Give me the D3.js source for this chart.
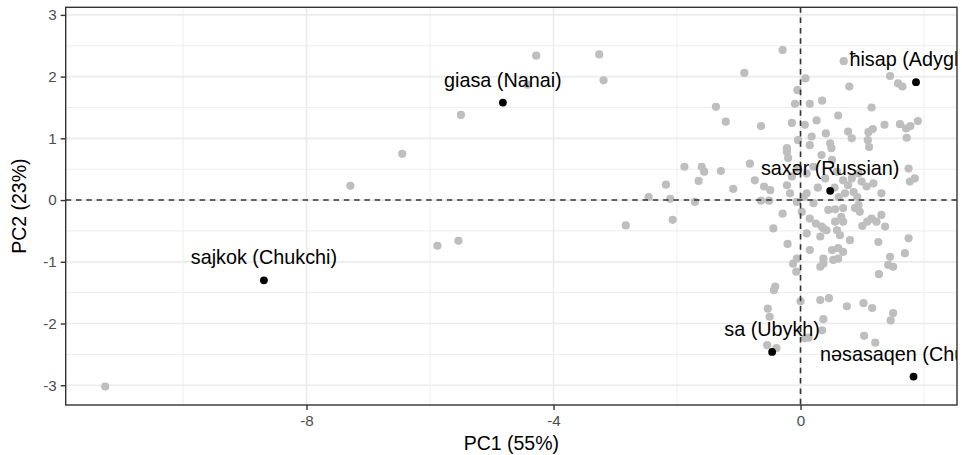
<!DOCTYPE html>
<html>
<head>
<meta charset="utf-8">
<script src="https://cdn.jsdelivr.net/npm/d3@7/dist/d3.min.js"></script>
<style>
  body { margin: 0; background: #ffffff; }
  svg { display: block; }
</style>
</head>
<body>
<svg id="chart" width="962" height="455"></svg>
<script>
// PCA scores of all words (grey background points)
const pc1Scores = [
  -11.26, -4.28, -3.26, -3.19, -4.42, -5.50, -6.45, -7.29, -2.83, -5.88, -5.54,
  -0.29, -0.91, -1.37, -1.21, -0.64, -0.14, -0.22, 0.70, 0.08, -0.05, 0.79, 1.45, 1.58, 1.65,
  -0.09, 0.15, 0.35, 1.15, 0.61, 0.07, 0.26, 1.36, 1.61, 1.71, 1.78, 1.90, 1.72, 0.41, 0.48,
  0.77, 0.83, 1.10, 1.17, 1.09, 1.11, -0.04, 0.18, 0.15, 0.50,
  -1.88, -1.60, -1.56, -1.29, -1.65, -2.18, -2.46, -2.11, -1.71, -2.07, -1.09, -0.82, -0.74,
  -0.59, -0.49, -0.64, -0.51, -0.29, -0.44, -0.21, -0.22, -0.20, 1.75, 1.85, 1.77, 1.31, 1.18,
  1.07, 0.94, 0.99, 0.86, 0.77, 0.69, 0.59, 0.51, 0.34, 0.21, 0.10, -0.06, -0.14, -0.22, -0.17,
  0.05, 0.10, 0.72, 0.83,
  -0.06, 0.21, 0.02, 0.15, 0.45, 0.56, 0.69, 0.88, 0.96, 0.94, 1.15, 1.23, 1.31, 1.37, 0.37,
  0.42, 0.56, 0.69, 0.59, 0.64, 0.80, 0.32, 0.15, 1.26, 1.75, 0.51, 0.61, 0.69, 0.53, 0.61,
  0.37, 1.45, 1.42, 1.69, 0.32, -0.12, -0.06, -0.07, 0.10, 0.34, 0.37, 1.08, 1.50, 1.27,
  0.32, 0.46, 0.00, -0.41, -0.43, -0.53, -0.50, 0.37, 0.35, 0.13, 0.07, 0.75, 1.02, 1.16,
  1.50, 1.46, 1.03, 1.21, -0.54, -0.39,
  0.28, 0.62, 0.66, 0.92, 0.40, 0.25, 1.00, 0.55
];
const pc2Scores = [
  -3.02, 2.34, 2.36, 1.94, 1.87, 1.38, 0.75, 0.23, -0.41, -0.74, -0.66,
  2.43, 2.06, 1.51, 1.27, 1.20, 1.25, 0.84, 2.25, 1.97, 1.78, 1.84, 2.01, 1.89, 1.84,
  1.56, 1.56, 1.61, 1.50, 1.37, 1.22, 1.29, 1.22, 1.23, 1.16, 1.20, 1.28, 1.01, 1.08, 0.92,
  1.11, 1.00, 1.10, 1.15, 0.97, 0.86, 0.97, 1.03, 0.89, 0.84,
  0.54, 0.54, 0.46, 0.47, 0.31, 0.25, 0.05, 0.02, -0.03, -0.32, 0.18, 0.59, 0.32,
  0.22, 0.16, -0.01, -0.01, -0.22, -0.46, -0.71, 0.78, 0.68, 0.51, 0.35, 0.30, 0.11, 0.27,
  0.22, 0.43, 0.30, 0.13, 0.24, 0.32, 0.46, 0.65, 0.73, 0.54, 0.43, 0.51, 0.38, 0.24, 0.11,
  0.05, 0.11, 0.11, 0.35,
  -0.03, -0.05, -0.19, -0.30, -0.16, -0.15, -0.13, -0.13, -0.19, -0.08, -0.30, -0.35, -0.24, -0.43, -0.46,
  -0.49, -0.35, -0.35, -0.49, -0.57, -0.65, -0.59, -0.81, -0.68, -0.62, -0.81, -0.78, -0.84, -0.97, -0.95,
  -0.95, -0.92, -1.05, -0.86, -1.08, -1.03, -0.95, -1.16, -0.54, -0.43, -1.03, -0.35, -1.08, -1.20,
  -1.62, -1.59, -1.64, -1.40, -1.46, -1.76, -1.89, -1.93, -2.11, -2.23, -2.24, -1.72, -1.67, -1.75,
  -1.83, -1.95, -2.20, -2.31, -2.35, -2.40,
  0.20, 0.05, -0.27, 0.05, 0.35, -0.38, -0.42, 0.20
];

// Highlighted words with their language
const highlightLabels = ["giasa (Nanai)", "sajkok (Chukchi)", "ħisap (Adyghe)", "saxər (Russian)", "sa (Ubykh)", "nəsasaqen (Chukchi)"];
const highlightPC1 = [-4.82, -8.69, 1.87, 0.48, -0.46, 1.83];
const highlightPC2 = [1.58, -1.30, 1.91, 0.15, -2.46, -2.86];

const xMajorTicks = [-8, -4, 0];
const xMinorTicks = [-10, -6, -2, 2];
const yMajorTicks = [-3, -2, -1, 0, 1, 2, 3];
const yMinorTicks = [-2.5, -1.5, -0.5, 0.5, 1.5, 2.5];
const xTitle = "PC1 (55%)";
const yTitle = "PC2 (23%)";

const panel = { left: 65.7, right: 957, top: 7.3, bottom: 405 };
const fontFamily = "'Liberation Sans', Arial, Helvetica, sans-serif";

const svg = d3.select("#chart");

const x = d3.scaleLinear().domain([-11.9, 2.534]).range([panel.left, panel.right]);
const y = d3.scaleLinear().domain([-3.32, 3.123]).range([panel.bottom, panel.top]);

svg.append("defs").append("clipPath").attr("id", "panel-clip")
  .append("rect")
  .attr("x", panel.left).attr("y", panel.top)
  .attr("width", panel.right - panel.left).attr("height", panel.bottom - panel.top);

// grid
const grid = svg.append("g");
grid.selectAll(".vminor").data(xMinorTicks).join("line")
  .attr("x1", d => x(d)).attr("x2", d => x(d))
  .attr("y1", panel.top).attr("y2", panel.bottom)
  .attr("stroke", "#ebebeb").attr("stroke-width", 0.9);
grid.selectAll(".hminor").data(yMinorTicks).join("line")
  .attr("y1", d => y(d)).attr("y2", d => y(d))
  .attr("x1", panel.left).attr("x2", panel.right)
  .attr("stroke", "#ebebeb").attr("stroke-width", 0.9);
grid.selectAll(".vmajor").data(xMajorTicks).join("line")
  .attr("x1", d => x(d)).attr("x2", d => x(d))
  .attr("y1", panel.top).attr("y2", panel.bottom)
  .attr("stroke", "#ebebeb").attr("stroke-width", 1.7);
grid.selectAll(".hmajor").data(yMajorTicks).join("line")
  .attr("y1", d => y(d)).attr("y2", d => y(d))
  .attr("x1", panel.left).attr("x2", panel.right)
  .attr("stroke", "#ebebeb").attr("stroke-width", 1.7);

const plot = svg.append("g").attr("clip-path", "url(#panel-clip)");

// grey points
const scores = pc1Scores.map((v, i) => ({ pc1: v, pc2: pc2Scores[i] }));
plot.append("g").selectAll("circle").data(scores).join("circle")
  .attr("cx", d => x(d.pc1)).attr("cy", d => y(d.pc2))
  .attr("r", 4.1).attr("fill", "#bebebe");

// reference lines at zero
plot.append("line")
  .attr("x1", x(0)).attr("x2", x(0)).attr("y1", panel.top).attr("y2", panel.bottom)
  .attr("stroke", "#333").attr("stroke-width", 1.6).attr("stroke-dasharray", "5.5,4.8");
plot.append("line")
  .attr("y1", y(0)).attr("y2", y(0)).attr("x1", panel.left).attr("x2", panel.right)
  .attr("stroke", "#333").attr("stroke-width", 1.6).attr("stroke-dasharray", "5.5,4.8");

// highlighted points and labels (labels are clipped by the panel, like the points)
const highlights = highlightLabels.map((t, i) => ({ label: t, pc1: highlightPC1[i], pc2: highlightPC2[i] }));
plot.append("g").selectAll("circle").data(highlights).join("circle")
  .attr("cx", d => x(d.pc1)).attr("cy", d => y(d.pc2))
  .attr("r", 3.9).attr("fill", "#000");
plot.append("g").selectAll("text").data(highlights).join("text")
  .attr("x", d => x(d.pc1)).attr("y", d => y(d.pc2 + 0.37))
  .attr("dy", "0.35em")
  .attr("text-anchor", "middle")
  .attr("font-family", fontFamily).attr("font-size", 19.8)
  .attr("fill", "#000")
  .text(d => d.label);

// panel border
svg.append("rect")
  .attr("x", panel.left).attr("y", panel.top)
  .attr("width", panel.right - panel.left).attr("height", panel.bottom - panel.top)
  .attr("fill", "none").attr("stroke", "#333").attr("stroke-width", 1.4);

// axes
const xAxis = svg.append("g").attr("transform", `translate(0,${panel.bottom})`)
  .call(d3.axisBottom(x).tickValues(xMajorTicks).tickSize(5).tickPadding(5));
const yAxis = svg.append("g").attr("transform", `translate(${panel.left},0)`)
  .call(d3.axisLeft(y).tickValues(yMajorTicks).tickSize(5).tickPadding(4));
[xAxis, yAxis].forEach(a => {
  a.select(".domain").remove();
  a.selectAll(".tick line").attr("stroke", "#333").attr("stroke-width", 1.4);
  a.selectAll(".tick text")
    .attr("font-family", fontFamily).attr("font-size", 15.2).attr("fill", "#4d4d4d")
    .text(d => String(d)); // plain hyphen-minus for negatives
});

// axis titles
svg.append("text")
  .attr("x", (panel.left + panel.right) / 2).attr("y", 450)
  .attr("text-anchor", "middle")
  .attr("font-family", fontFamily).attr("font-size", 19.5).attr("fill", "#000")
  .text(xTitle);
svg.append("text")
  .attr("transform", `translate(26,${(panel.top + panel.bottom) / 2}) rotate(-90)`)
  .attr("text-anchor", "middle")
  .attr("font-family", fontFamily).attr("font-size", 19.5).attr("fill", "#000")
  .text(yTitle);
</script>
</body>
</html>
